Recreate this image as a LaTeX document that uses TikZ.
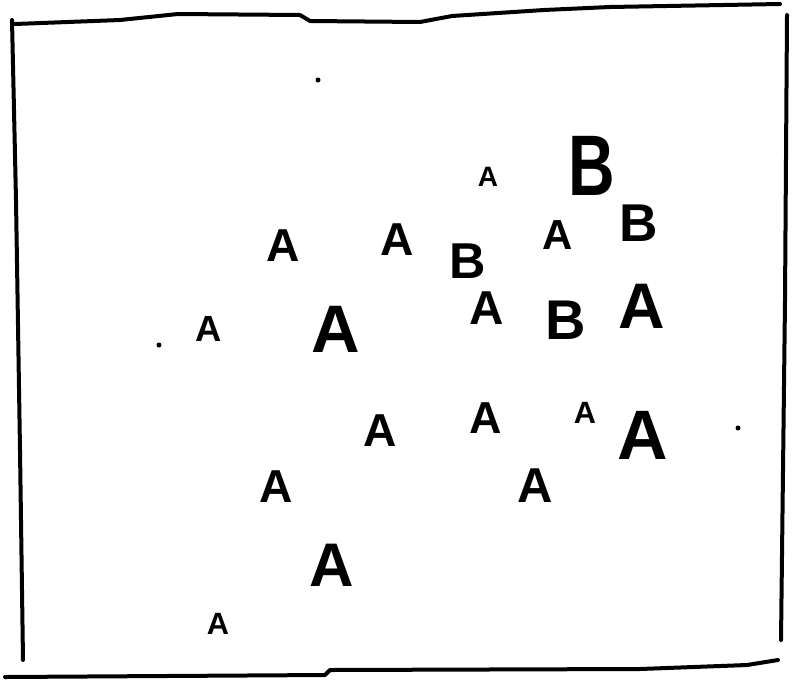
\documentclass[tikz,border=0pt]{standalone}
\usepackage{fontspec}
\setmainfont{Liberation Sans}
\usepackage{tikz}

\tikzset{
  glyph/.style={inner sep=0pt, outer sep=0pt, anchor=center, font=\bfseries},
  frameline/.style={line width=4pt, line join=round, line cap=round}
}

\begin{document}
\begin{tikzpicture}[x=1pt,y=-1pt]
    \useasboundingbox (0,0) rectangle (797,681);
    % hand drawn frame
    \draw[frameline] (15,24) -- (120,20) -- (178,14) -- (300,15) -- (310,21)
      -- (420,22) -- (452,16) -- (544,10) -- (610,7) -- (780,4);
    \draw[frameline] (12,20) -- (16,200) -- (20,450) -- (23,660);
    \draw[frameline] (787,15) -- (785,300) -- (781,640);
    \draw[frameline] (5,677) -- (325,675) -- (330,670) -- (640,669)
      -- (747,665) -- (778,660);
    % the tall narrow B
    \node[glyph, xscale=0.75] (b1) at (592,166)
      {\fontsize{86}{86}\selectfont B};
    % letters: x/y/height/letter/name
    \foreach \x/\y/\h/\lab/\nm in {
      488/177/20/A/a1,
      283/246/33/A/a2,
      397/240/33/A/a3,
      468/261/36/B/b2,
      558/235/30/A/a4,
      639/223/38/B/b3,
      209/329/26/A/a5,
      336/329/48/A/a6,
      487/308/34/A/a7,
      566/320/40/B/b4,
      642/306/46/A/a8,
      380/431/33/A/a9,
      486/418/32/A/a10,
      585/413/22/A/a11,
      643/435/50/A/a12,
      276/487/33/A/a13,
      535/486/35/A/a14,
      332/565/44/A/a15,
      218/624/22/A/a16}{
      \pgfmathsetmacro\fs{1.4*\h}
      \node[glyph] (\nm) at (\x,\y) {\fontsize{\fs}{\fs}\selectfont\lab};
    }
    % stray dots
    \fill (318,80) circle (2.5);
    \fill (159,345) circle (2.5);
    \fill (738,428) circle (2.5);
  \end{tikzpicture}
\end{document}
